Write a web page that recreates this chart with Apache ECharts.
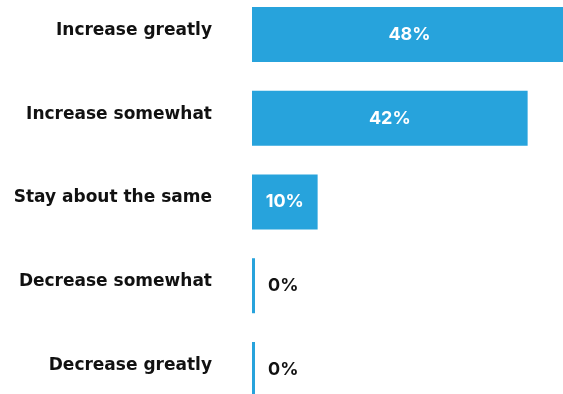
<!DOCTYPE html>
<html><head><meta charset="utf-8">
<script src="https://cdn.jsdelivr.net/npm/echarts@6/dist/echarts.min.js"></script>
<style>html,body{margin:0;padding:0;background:#fff}#c{width:563px;height:394px}</style>
</head><body><div id="c"></div>
<script>
var categories = ["Increase greatly","Increase somewhat","Stay about the same","Decrease somewhat","Decrease greatly"];
var values = [48, 42, 10, 0, 0];

var CAT_FONT = 'DejaVu Sans';
var FONT = 'Inter';
var BLUE = '#27a3dc';
var chart = echarts.init(document.getElementById('c'));
var data = values.map(function(v){
  if (v === 0) {
    return {value: v, label: {position: 'right', distance: 13, color: '#111'}};
  }
  return {value: v, label: {position: 'inside', color: '#fff'}};
});
chart.setOption({
  animation: false,
  backgroundColor: '#fff',
  grid: {left: 252, width: 315, top: -7.4, height: 418.75, containLabel: false, outerBoundsMode: 'none'},
  xAxis: {type: 'value', min: 0, max: 48, show: false},
  yAxis: {
    type: 'category', data: categories, inverse: true,
    axisLine: {show: false}, axisTick: {show: false}, splitLine: {show: false},
    axisLabel: {margin: 40, fontFamily: CAT_FONT, fontWeight: 'bold', fontSize: 17, color: '#111',
      verticalAlign: 'bottom', lineHeight: 8}
  },
  series: [{
    type: 'bar', data: data, barWidth: 55, barMinHeight: 3, clip: false,
    itemStyle: {color: BLUE},
    label: {show: true, fontFamily: FONT, fontWeight: 'bold', fontSize: 18,
      formatter: function(p){ return p.value + '%'; }, padding: [3,0,0,0]}
  }]
});
</script></body></html>
